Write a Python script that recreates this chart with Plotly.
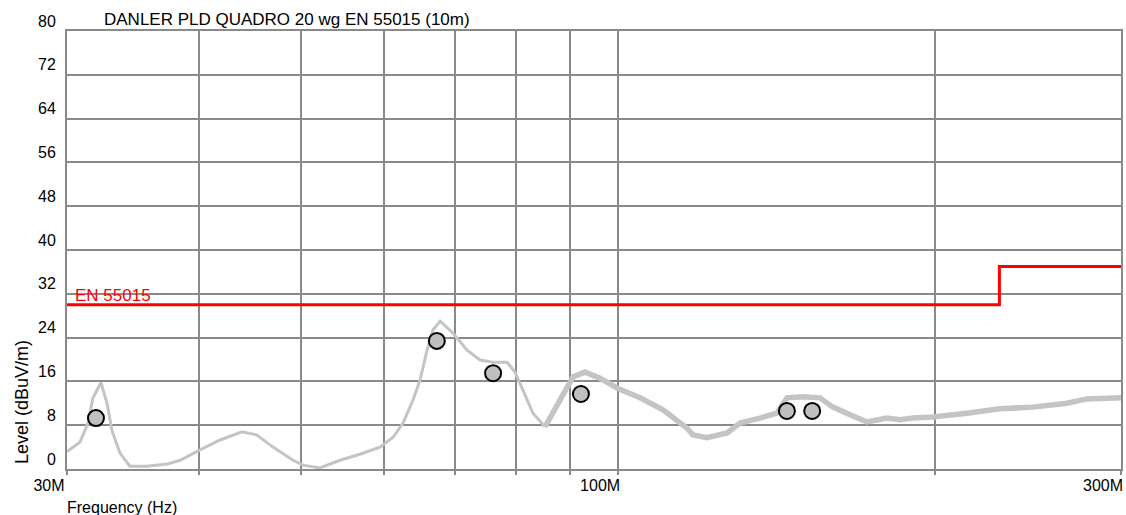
import plotly.graph_objects as go
import math

# ---- data ----
freq_mhz = [30.00, 30.86, 31.41, 31.75, 32.31, 32.74, 33.10, 33.68, 34.42, 35.73,
            37.33, 38.41, 40.12, 41.91, 43.97, 45.44, 47.05, 49.16, 50.24, 52.13,
            54.47, 56.90, 59.44, 61.16, 62.51, 63.89, 64.88, 65.88, 66.74, 67.78,
            69.73, 71.90, 73.96, 76.09, 78.45, 79.82, 81.23, 83.02, 85.23, 86.73,
            88.65, 90.61, 93.02, 96.12, 99.74, 104.9, 110.3, 114.5, 116.2, 117.8,
            121.4, 126.9, 130.5, 136.3, 141.5, 144.6, 149.8, 155.4, 159.9, 166.0,
            172.2, 179.9, 185.1, 190.4, 198.9, 214.3, 230.3, 247.5, 266.6, 278.5, 300.0]
level_dbuv = [3.2, 4.9, 8.4, 13.0, 15.8, 12.0, 7.0, 2.9, 0.5, 0.5,
              0.9, 1.6, 3.5, 5.3, 6.8, 6.2, 4.0, 1.6, 0.7, 0.2,
              1.6, 2.7, 4.0, 5.8, 8.4, 12.6, 16.3, 21.7, 25.4, 27.0,
              24.8, 21.7, 19.9, 19.5, 19.5, 17.7, 14.4, 10.2, 7.7, 10.4,
              13.9, 16.8, 17.7, 16.6, 14.8, 13.0, 10.8, 8.6, 7.5, 6.2,
              5.7, 6.6, 8.4, 9.3, 10.2, 13.0, 13.2, 13.0, 11.3, 9.9,
              8.6, 9.3, 9.0, 9.3, 9.5, 10.2, 11.0, 11.3, 12.0, 12.8, 13.0]

peak_freq_mhz = [31.96, 67.3, 76.1, 92.2, 144.6, 152.8]
peak_level = [9.3, 23.4, 17.5, 13.7, 10.6, 10.6]

limit_freq_mhz = [30, 230, 300]
limit_level = [30, 37, 37]

x_major_ticks = [30, 100, 300]
x_major_text = ["30M", "100M", "300M"]
x_minor_ticks = [40, 50, 60, 70, 80, 90, 200]
y_ticks = [0, 8, 16, 24, 32, 40, 48, 56, 64, 72, 80]

title_text = "DANLER PLD QUADRO 20 wg EN 55015 (10m)"
limit_name = "EN 55015"

# ---- figure ----
FONT = "Liberation Sans, Arial, sans-serif"
GRID = "#8a8a8a"
TRACE = "#c4c4c4"

fig = go.Figure()

split = freq_mhz.index(85.23)
fig.add_trace(go.Scatter(x=freq_mhz[:split + 1], y=level_dbuv[:split + 1], mode="lines",
                         line=dict(color=TRACE, width=3), hoverinfo="skip"))
fig.add_trace(go.Scatter(x=freq_mhz[split:], y=level_dbuv[split:], mode="lines",
                         line=dict(color=TRACE, width=5.5), hoverinfo="skip"))

fig.add_trace(go.Scatter(x=limit_freq_mhz, y=limit_level, mode="lines",
                         line=dict(color="#ff0000", width=3, shape="hv"), hoverinfo="skip"))

fig.add_trace(go.Scatter(x=peak_freq_mhz, y=peak_level, mode="markers",
                         marker=dict(size=16, color="#c0c0c0",
                                     line=dict(color="#000000", width=2)),
                         hoverinfo="skip"))

fig.update_layout(
    width=1126, height=515,
    margin=dict(l=67, r=5, t=31, b=46),
    paper_bgcolor="white", plot_bgcolor="white",
    showlegend=False,
    font=dict(family=FONT, size=16, color="#000000"),
)

fig.update_xaxes(
    type="log", range=[math.log10(30), math.log10(300)],
    tickvals=x_major_ticks, ticktext=x_major_text,
    showgrid=True, gridcolor=GRID, gridwidth=2,
    showline=True, linecolor=GRID, linewidth=2, mirror=True,
    ticks="outside", ticklen=4, tickcolor=GRID, tickwidth=2,
    ticklabelshift=-18, ticklabelstandoff=-3,
    minor=dict(tickvals=x_minor_ticks, showgrid=True, gridcolor=GRID, gridwidth=2,
               ticks="outside", ticklen=4, tickcolor=GRID, tickwidth=2),
    zeroline=False, automargin=False,
    tickfont=dict(size=16),
)
fig.update_yaxes(
    range=[0, 80], tickvals=y_ticks,
    showgrid=True, gridcolor=GRID, gridwidth=2,
    showline=True, linecolor=GRID, linewidth=2, mirror=True,
    ticks="", ticklabelshift=-10, ticklabelstandoff=6,
    zeroline=False, automargin=False,
    tickfont=dict(size=16),
)

# title
fig.add_annotation(text=title_text, xref="paper", yref="paper",
                   x=(102 - 67) / 1054, y=1 + 11 / 438, xanchor="left", yanchor="middle",
                   showarrow=False, font=dict(size=17))
# limit label
fig.add_annotation(text=limit_name, xref="paper", yref="y",
                   x=6 / 1054, y=31.6, xanchor="left", yanchor="middle",
                   showarrow=False, font=dict(size=17, color="#ff0000"))
# axis titles
fig.add_annotation(text="Frequency (Hz)", xref="paper", yref="paper",
                   x=-2 / 1054, y=-(507 - 469) / 438, xanchor="left", yanchor="middle",
                   showarrow=False, font=dict(size=16))
fig.add_annotation(text="Level (dBuV/m)", xref="paper", yref="paper",
                   x=-(67 - 22) / 1054, y=(469 - 402) / 438, xanchor="center", yanchor="middle",
                   textangle=-90, showarrow=False, font=dict(size=18))

fig.write_html("out.html", config={"displayModeBar": False},
               post_script="document.body.style.margin='0';document.body.style.overflow='hidden';")
